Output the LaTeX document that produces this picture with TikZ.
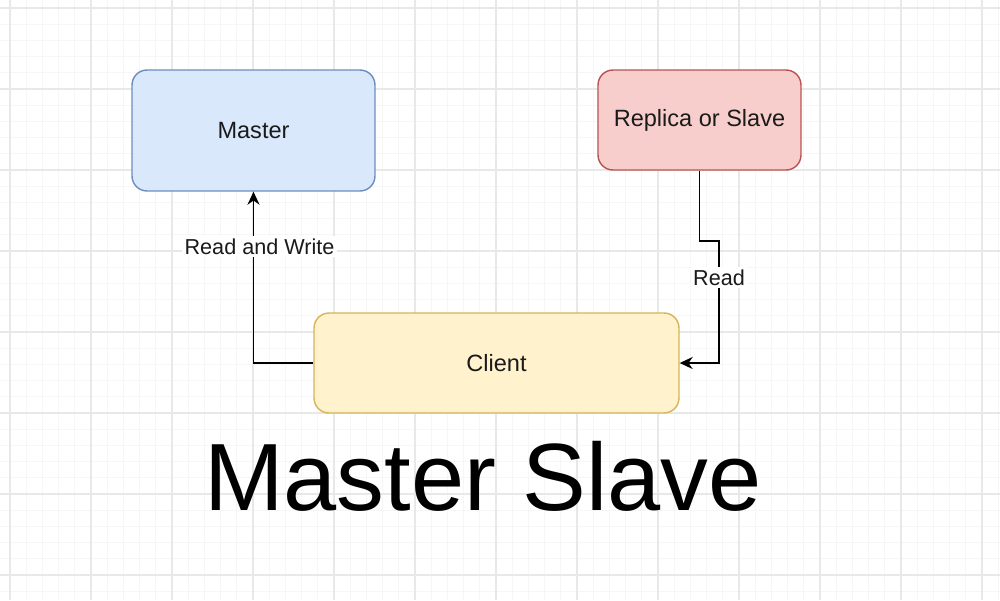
\documentclass[tikz,border=0pt]{standalone}
\usepackage{fontspec}
\setmainfont{Liberation Sans}
\usepackage{xcolor}
\definecolor{gridMinor}{HTML}{F6F6F6}
\definecolor{gridMajor}{HTML}{E8E8E8}
\definecolor{masterFill}{HTML}{DAE8FC}
\definecolor{masterLine}{HTML}{6C8EBF}
\definecolor{replicaFill}{HTML}{F8CECC}
\definecolor{replicaLine}{HTML}{B85450}
\definecolor{clientFill}{HTML}{FFF2CC}
\definecolor{clientLine}{HTML}{D6B656}
\definecolor{textInk}{HTML}{1A1A1A}
\usetikzlibrary{arrows.meta}

\tikzset{
  box/.style={rectangle, rounded corners=0.3cm, draw, line width=0.8pt, inner sep=0pt,
    text=textInk, font=\fontsize{13.4}{16}\selectfont},
  link/.style={line width=1.1pt, -{Stealth[length=0.26cm, width=0.24cm]}},
  lbl/.style={fill=white, inner sep=1.5pt, text=textInk, font=\fontsize{12.3}{14}\selectfont}
}

\begin{document}
\begin{tikzpicture}[x=0.02cm, y=-0.02cm]
  \useasboundingbox (0,0) rectangle (1000,600);
  \fill[white] (0,0) rectangle (1000,600);
  % grid
  \foreach \i in {-1,...,62}
    \draw[gridMinor, line width=0.5pt] ({10+16.2*\i},0) -- ({10+16.2*\i},600);
  \foreach \i in {-1,...,37}
    \draw[gridMinor, line width=0.5pt] (0,{8+16.2*\i}) -- (1000,{8+16.2*\i});
  \foreach \i in {0,...,12}
    \draw[gridMajor, line width=0.8pt] ({10+81*\i},0) -- ({10+81*\i},600);
  \foreach \i in {0,...,7}
    \draw[gridMajor, line width=0.8pt] (0,{8+81*\i}) -- (1000,{8+81*\i});

  % boxes
  \node[box, fill=masterFill, draw=masterLine, minimum width=4.86cm, minimum height=2.42cm] (master) at (253.5,130.5) {Master};
  \node[box, fill=replicaFill, draw=replicaLine, minimum width=4.06cm, minimum height=2.0cm] (replica) at (699.5,120) {Replica or Slave};
  \node[box, fill=clientFill, draw=clientLine, minimum width=7.3cm, minimum height=2.0cm] (client) at (496.5,363) {Client};

  % connectors
  \coordinate (bend) at (719,241);
  \draw[link] (client.west) -| node[lbl, pos=0.84, xshift=0.12cm] {Read and Write} (master.south);
  \draw[link] (replica.south) |- (bend) |- node[lbl, pos=0.15] {Read} (client.east);

  % title
  \node[font=\fontsize{54.4}{60}\selectfont] (title) at (483,476) {Master Slave};
\end{tikzpicture}
\end{document}
